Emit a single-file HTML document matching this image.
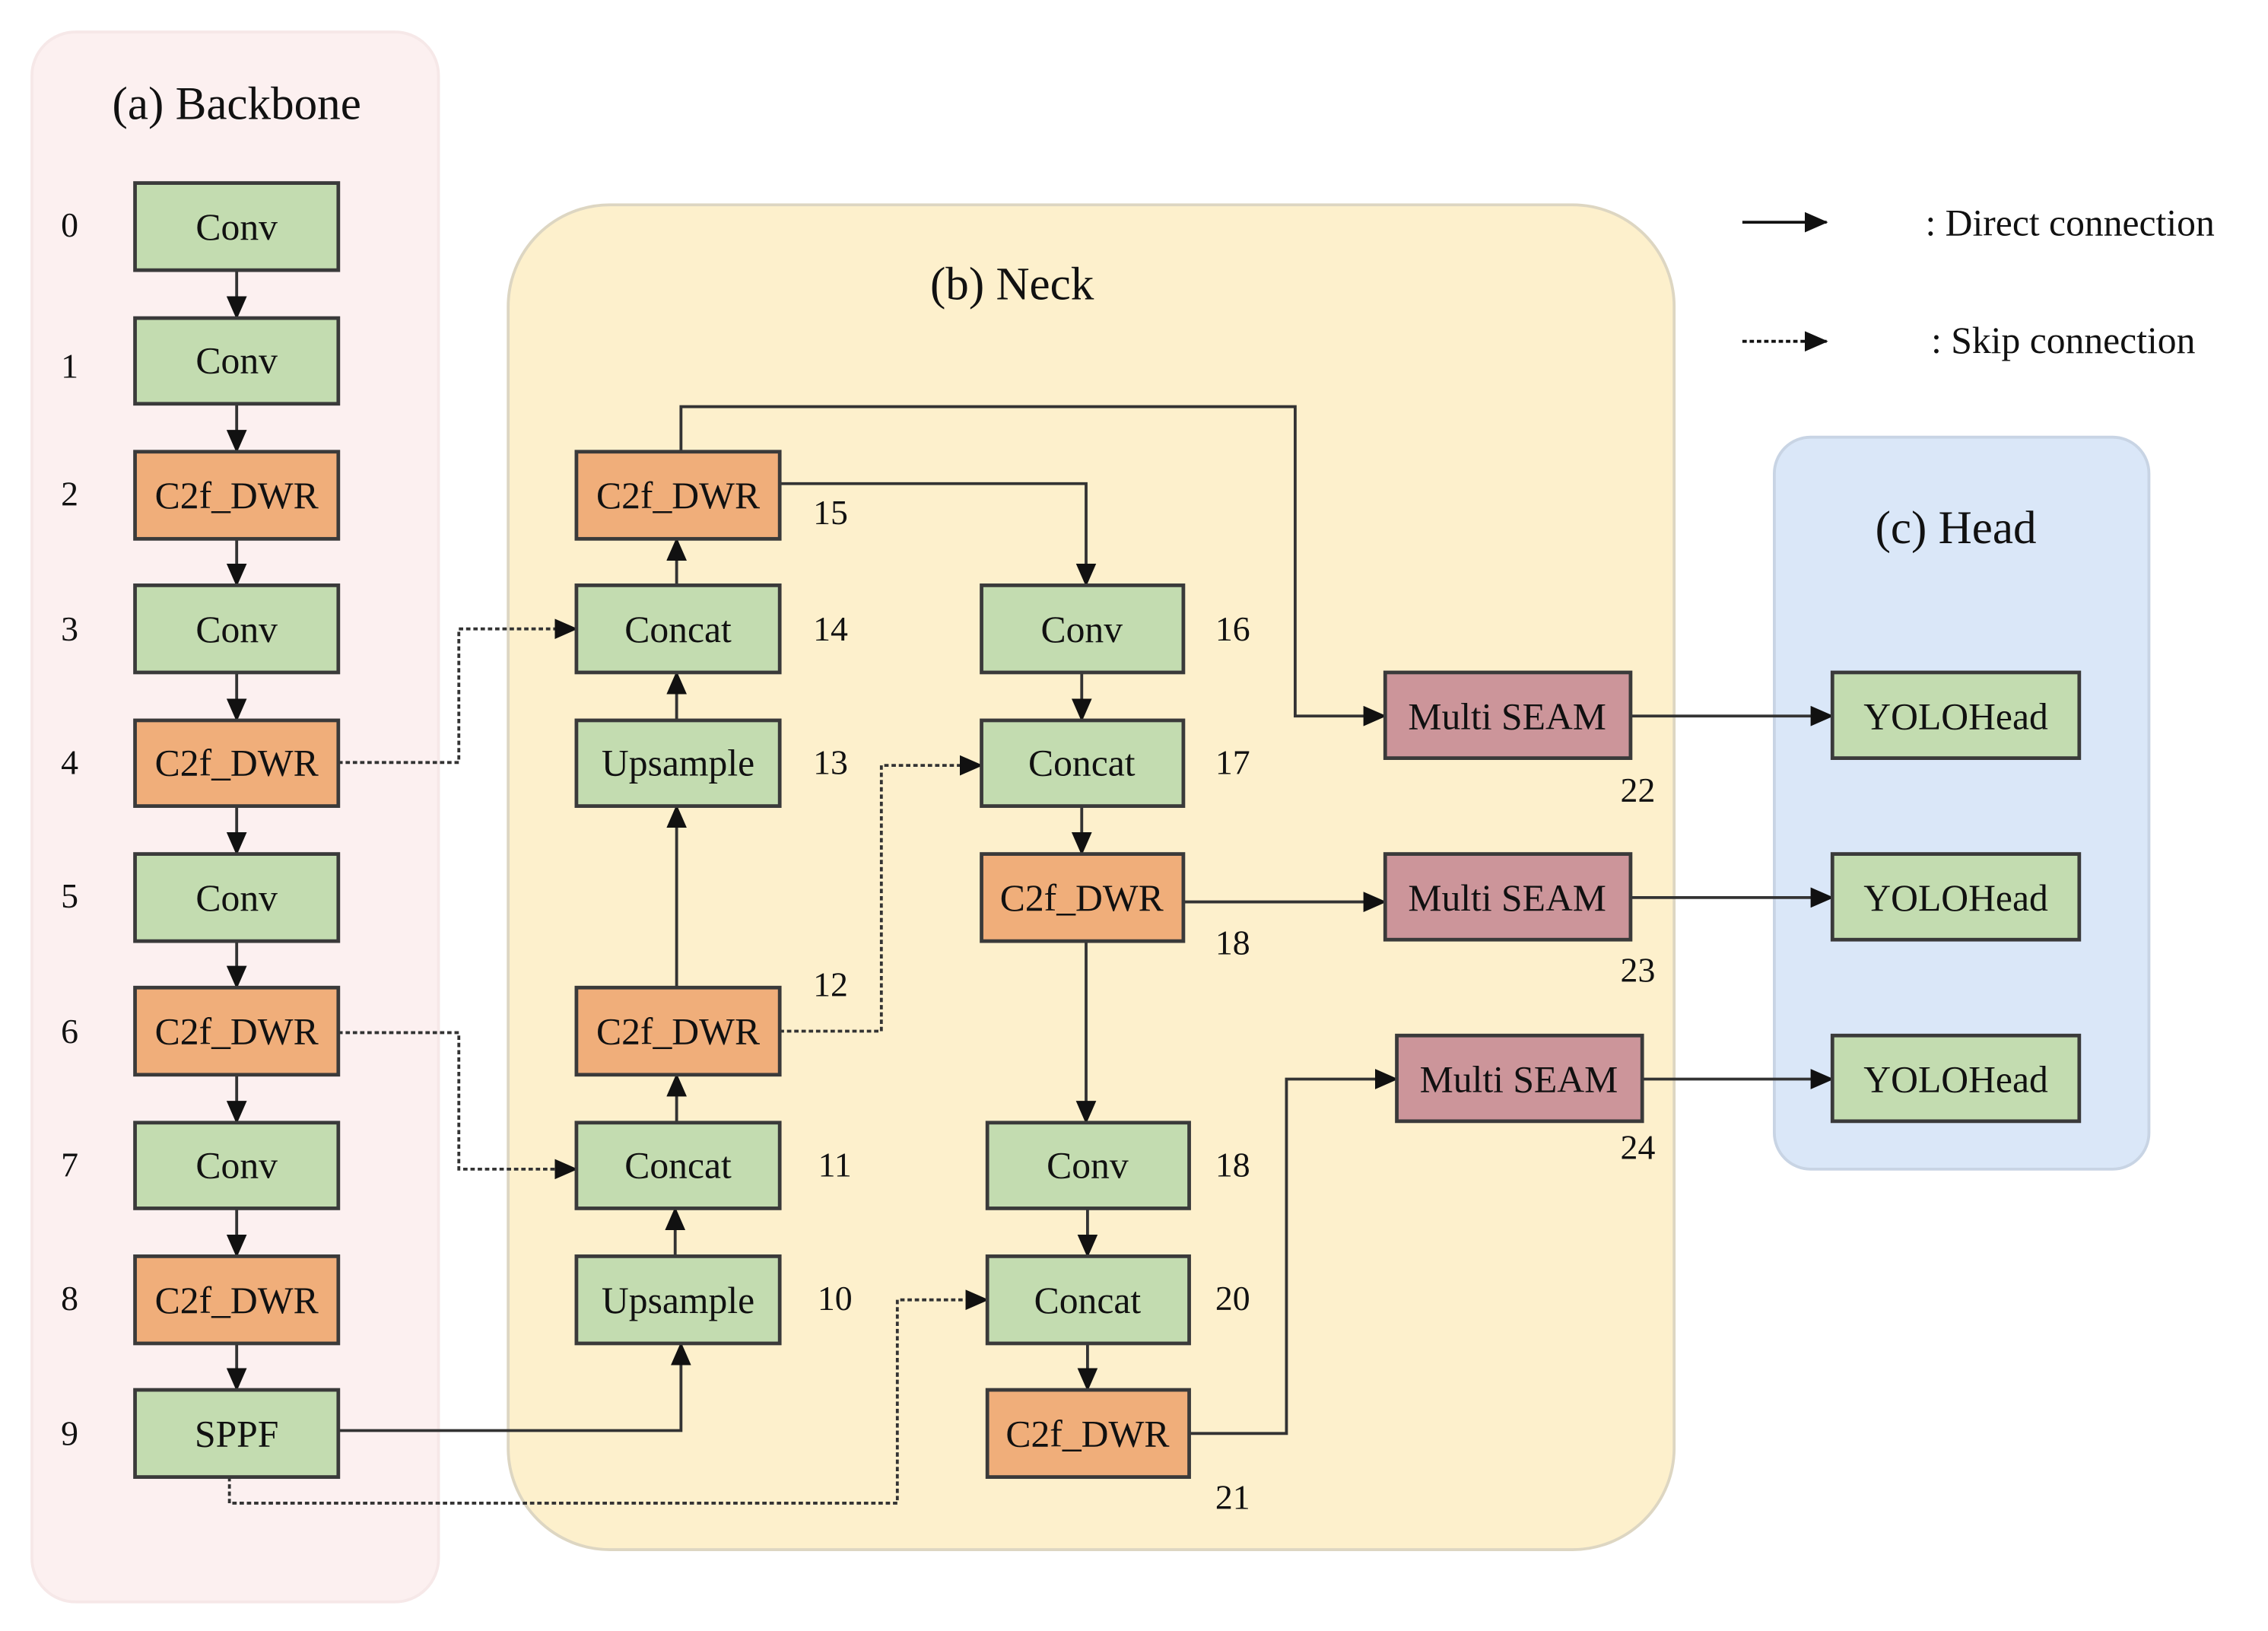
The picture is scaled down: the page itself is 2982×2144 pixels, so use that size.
<!DOCTYPE html>
<html><head><meta charset="utf-8"><style>html,body{margin:0;padding:0;background:#fff}svg{display:block}</style></head>
<body>
<svg width="2982" height="2144" viewBox="0 0 1562 1123" xmlns="http://www.w3.org/2000/svg" font-family="Liberation Serif, serif">
<defs>
<marker id="a" markerWidth="10" markerHeight="10" refX="9" refY="5" orient="auto" markerUnits="userSpaceOnUse" viewBox="0 0 10 10"><path d="M0,0 L10,5 L0,10 z" fill="#111"/></marker>
<marker id="b" markerWidth="16" markerHeight="14" refX="15" refY="7" orient="auto" markerUnits="userSpaceOnUse" viewBox="0 0 16 14"><path d="M0,0 L16,7 L0,14 z" fill="#111"/></marker>
</defs>
<rect x="0" y="0" width="1562" height="1123" fill="#fff"/>
<rect x="22" y="22" width="280" height="1081" rx="30" fill="#fcf0f0" stroke="#f6e8e8" stroke-width="2"/>
<rect x="350" y="141" width="803" height="926" rx="70" fill="#fdf0cc" stroke="#ddd6c2" stroke-width="2"/>
<rect x="1222" y="301" width="258" height="504" rx="25" fill="#dae7f8" stroke="#c8d4e4" stroke-width="2"/>
<g font-size="32" fill="#111" text-anchor="middle">
<text x="163" y="82">(a) Backbone</text>
<text x="697" y="206">(b) Neck</text>
<text x="1347" y="374">(c) Head</text>
</g>
<g stroke="#111" stroke-width="2" fill="none">
<line x1="1200" y1="153" x2="1258" y2="153" marker-end="url(#b)"/>
<line x1="1200" y1="235" x2="1258" y2="235" stroke-dasharray="3,2" marker-end="url(#b)"/>
</g>
<g font-size="26" fill="#111">
<text x="1326" y="162">: Direct connection</text>
<text x="1330" y="243">: Skip connection</text>
</g>
<g stroke="#333" stroke-width="2" fill="none">
<!-- backbone verticals -->
<line x1="163" y1="186" x2="163" y2="219" marker-end="url(#b)"/>
<line x1="163" y1="278" x2="163" y2="311" marker-end="url(#b)"/>
<line x1="163" y1="371" x2="163" y2="403" marker-end="url(#b)"/>
<line x1="163" y1="463" x2="163" y2="496" marker-end="url(#b)"/>
<line x1="163" y1="555" x2="163" y2="588" marker-end="url(#b)"/>
<line x1="163" y1="648" x2="163" y2="680" marker-end="url(#b)"/>
<line x1="163" y1="740" x2="163" y2="773" marker-end="url(#b)"/>
<line x1="163" y1="832" x2="163" y2="865" marker-end="url(#b)"/>
<line x1="163" y1="925" x2="163" y2="957" marker-end="url(#b)"/>
<!-- dashed skips -->
<polyline points="233,525 316,525 316,433 397,433" stroke-dasharray="3,2" marker-end="url(#b)"/>
<polyline points="233,711 316,711 316,805 397,805" stroke-dasharray="3,2" marker-end="url(#b)"/>
<polyline points="158,1017 158,1035 618,1035 618,895 680,895" stroke-dasharray="3,2" marker-end="url(#b)"/>
<polyline points="537,710 607,710 607,527 676,527" stroke-dasharray="3,2" marker-end="url(#b)"/>
<!-- solid -->
<polyline points="233,985 469,985 469,925" marker-end="url(#b)"/>
<line x1="465" y1="865" x2="465" y2="832" marker-end="url(#b)"/>
<line x1="466" y1="773" x2="466" y2="740" marker-end="url(#b)"/>
<line x1="466" y1="680" x2="466" y2="555" marker-end="url(#b)"/>
<line x1="466" y1="496" x2="466" y2="463" marker-end="url(#b)"/>
<line x1="466" y1="403" x2="466" y2="371" marker-end="url(#b)"/>
<polyline points="469,311 469,280 892,280 892,493 954,493" marker-end="url(#b)"/>
<polyline points="537,333 748,333 748,403" marker-end="url(#b)"/>
<line x1="745" y1="463" x2="745" y2="496" marker-end="url(#b)"/>
<line x1="745" y1="555" x2="745" y2="588" marker-end="url(#b)"/>
<line x1="815" y1="621" x2="954" y2="621" marker-end="url(#b)"/>
<line x1="748" y1="648" x2="748" y2="773" marker-end="url(#b)"/>
<line x1="749" y1="832" x2="749" y2="865" marker-end="url(#b)"/>
<line x1="749" y1="925" x2="749" y2="957" marker-end="url(#b)"/>
<polyline points="819,987 886,987 886,743 962,743" marker-end="url(#b)"/>
<line x1="1123" y1="493" x2="1262" y2="493" marker-end="url(#b)"/>
<line x1="1123" y1="618" x2="1262" y2="618" marker-end="url(#b)"/>
<line x1="1131" y1="743" x2="1262" y2="743" marker-end="url(#b)"/>
</g>
<g stroke="#3a3a3a" stroke-width="2.5">
<g fill="#c3dcb0">
<rect x="93" y="126" width="140" height="60"/>
<rect x="93" y="219" width="140" height="59"/>
<rect x="93" y="403" width="140" height="60"/>
<rect x="93" y="588" width="140" height="60"/>
<rect x="93" y="773" width="140" height="59"/>
<rect x="93" y="957" width="140" height="60"/>
<rect x="397" y="403" width="140" height="60"/>
<rect x="397" y="496" width="140" height="59"/>
<rect x="397" y="773" width="140" height="59"/>
<rect x="397" y="865" width="140" height="60"/>
<rect x="676" y="403" width="139" height="60"/>
<rect x="676" y="496" width="139" height="59"/>
<rect x="680" y="773" width="139" height="59"/>
<rect x="680" y="865" width="139" height="60"/>
<rect x="1262" y="463" width="170" height="59"/>
<rect x="1262" y="588" width="170" height="59"/>
<rect x="1262" y="713" width="170" height="59"/>
</g>
<g fill="#f0ae7a">
<rect x="93" y="311" width="140" height="60"/>
<rect x="93" y="496" width="140" height="59"/>
<rect x="93" y="680" width="140" height="60"/>
<rect x="93" y="865" width="140" height="60"/>
<rect x="397" y="311" width="140" height="60"/>
<rect x="397" y="680" width="140" height="60"/>
<rect x="676" y="588" width="139" height="60"/>
<rect x="680" y="957" width="139" height="60"/>
</g>
<g fill="#cc959a">
<rect x="954" y="463" width="169" height="59"/>
<rect x="954" y="588" width="169" height="59"/>
<rect x="962" y="713" width="169" height="59"/>
</g>
</g>
<g font-size="26" fill="#111" text-anchor="middle">
<text x="163" y="165">Conv</text>
<text x="163" y="257">Conv</text>
<text x="163" y="350">C2f_DWR</text>
<text x="163" y="442">Conv</text>
<text x="163" y="534">C2f_DWR</text>
<text x="163" y="627">Conv</text>
<text x="163" y="719">C2f_DWR</text>
<text x="163" y="811">Conv</text>
<text x="163" y="904">C2f_DWR</text>
<text x="163" y="996">SPPF</text>
<text x="467" y="350">C2f_DWR</text>
<text x="467" y="442">Concat</text>
<text x="467" y="534">Upsample</text>
<text x="467" y="719">C2f_DWR</text>
<text x="467" y="811">Concat</text>
<text x="467" y="904">Upsample</text>
<text x="745" y="442">Conv</text>
<text x="745" y="534">Concat</text>
<text x="745" y="627">C2f_DWR</text>
<text x="749" y="811">Conv</text>
<text x="749" y="904">Concat</text>
<text x="749" y="996">C2f_DWR</text>
<text x="1038" y="502">Multi SEAM</text>
<text x="1038" y="627">Multi SEAM</text>
<text x="1046" y="752">Multi SEAM</text>
<text x="1347" y="502">YOLOHead</text>
<text x="1347" y="627">YOLOHead</text>
<text x="1347" y="752">YOLOHead</text>
</g>
<g font-size="24" fill="#111" text-anchor="middle">
<text x="48" y="163">0</text><text x="48" y="260">1</text><text x="48" y="348">2</text><text x="48" y="441">3</text><text x="48" y="533">4</text><text x="48" y="625">5</text><text x="48" y="718">6</text><text x="48" y="810">7</text><text x="48" y="902">8</text><text x="48" y="995">9</text>
<text x="572" y="361">15</text><text x="572" y="441">14</text><text x="572" y="533">13</text><text x="572" y="686">12</text><text x="575" y="810">11</text><text x="575" y="902">10</text>
<text x="849" y="441">16</text><text x="849" y="533">17</text><text x="849" y="657">18</text><text x="849" y="810">18</text><text x="849" y="902">20</text><text x="849" y="1039">21</text>
<text x="1128" y="552">22</text><text x="1128" y="676">23</text><text x="1128" y="798">24</text>
</g>
</svg>
</body></html>
